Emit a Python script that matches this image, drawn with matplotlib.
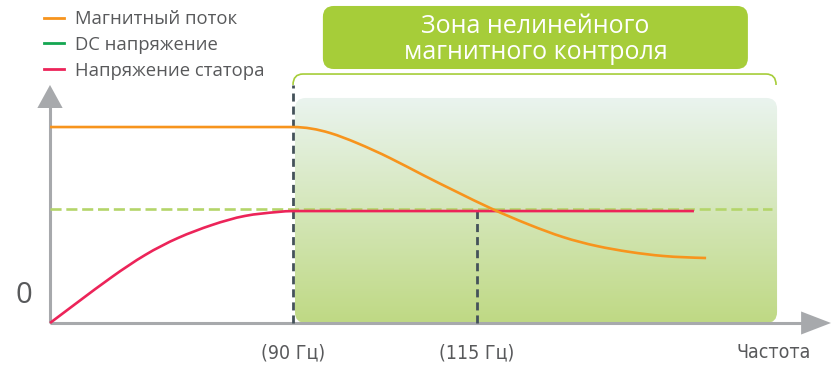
import numpy as np
import matplotlib
matplotlib.use("Agg")
import matplotlib.pyplot as plt
from matplotlib.patches import FancyBboxPatch, Polygon, PathPatch
from matplotlib.path import Path
from matplotlib.lines import Line2D
from matplotlib.colors import LinearSegmentedColormap
from matplotlib import font_manager as fm

# ---- data (x: relative frequency, 90 Hz = 1.0; y: relative level, DC = 1.0) ----
flux_x = [0.0, 1.0, 1.152, 1.263, 1.399, 1.535, 1.675, 1.811,
          1.975, 2.111, 2.251, 2.387, 2.523, 2.700]
flux_y = [1.719, 1.719, 1.667, 1.579, 1.447, 1.298, 1.149, 1.009,
          0.860, 0.754, 0.675, 0.623, 0.588, 0.570]

stator_x = [0.0, 0.115, 0.255, 0.391, 0.527, 0.667, 0.802, 0.938, 1.0, 2.650]
stator_y = [0.0, 0.184, 0.404, 0.596, 0.746, 0.860, 0.939, 0.974, 0.982, 0.982]

dc_level = 1.0
dc_x_end = 2.971

f_base = 1.0      # 90 Hz
f_cross = 1.757   # 115 Hz

series_labels = ["Магнитный поток", "DC напряжение", "Напряжение статора"]
tick_labels = ["(90 Гц)", "(115 Гц)"]
axis_label = "Частота"
zero_label = "0"
zone_title = "Зона нелинейного\nмагнитного контроля"

# ---- styling ----
C_FLUX = "#f7941d"
C_DC = "#14a651"
C_STATOR = "#ec2459"
C_DC_DASH = "#b4d56a"
C_TEXT = "#58595b"
C_AXIS = "#a7a9ac"
C_GUIDE = "#44525a"
C_ZONE = "#a6cd39"

names = {f.name for f in fm.fontManager.ttflist}
BASE = ["Open Sans", "DejaVu Sans"]
if "Liberation Sans Narrow" in names:
    NARROW = dict(family=["Liberation Sans Narrow", "DejaVu Sans"])
else:
    NARROW = dict(family=["DejaVu Sans"], stretch="condensed")
plt.rcParams["font.family"] = BASE


def spline_path(xs, ys, fixed):
    """Cubic spline (C2) Bezier path through the points; `fixed` pins the
    slope at given node indices, free end nodes use natural conditions."""
    x = np.asarray(xs, float)
    y = np.asarray(ys, float)
    n = len(x)
    h = np.diff(x)
    d = np.diff(y) / h
    A = np.zeros((n, n))
    b = np.zeros(n)
    for i in range(n):
        if i in fixed:
            A[i, i] = 1.0
            b[i] = fixed[i]
        elif i == 0:
            A[0, 0], A[0, 1], b[0] = 2.0, 1.0, 3 * d[0]
        elif i == n - 1:
            A[i, i - 1], A[i, i], b[i] = 1.0, 2.0, 3 * d[-1]
        else:
            A[i, i - 1] = h[i]
            A[i, i] = 2 * (h[i - 1] + h[i])
            A[i, i + 1] = h[i - 1]
            b[i] = 3 * (h[i] * d[i - 1] + h[i - 1] * d[i])
    m = np.linalg.solve(A, b)
    verts = [(x[0], y[0])]
    codes = [Path.MOVETO]
    for i in range(n - 1):
        verts += [(x[i] + h[i] / 3, y[i] + m[i] * h[i] / 3),
                  (x[i + 1] - h[i] / 3, y[i + 1] - m[i + 1] * h[i] / 3),
                  (x[i + 1], y[i + 1])]
        codes += [Path.CURVE4] * 3
    return Path(verts, codes)


W, H = 837, 366
fig = plt.figure(figsize=(W / 100, H / 100), dpi=100)
ax = fig.add_axes([0, 0, 1, 1])
sx, sy = 243.0, 114.0          # pixels per unit
ox, oy = 50.0, 323.0           # origin in pixels
XL = (-ox / sx, (W - ox) / sx)
YL = (-(H - oy) / sy, oy / sy)
ax.axis("off")
aspect = sx / sy

# shaded zone with vertical gradient
zx0, zx1 = 1.008, 2.992
zy0, zy1 = 0.0, 1.974
zone = FancyBboxPatch((zx0, zy0), zx1 - zx0, zy1 - zy0,
                      boxstyle="round,pad=0,rounding_size=0.045",
                      mutation_aspect=aspect, fc="none", ec="none")
ax.add_patch(zone)
grad = np.linspace(0, 1, 256).reshape(-1, 1)
cmap = LinearSegmentedColormap.from_list("zone", ["#eaf4ef", "#bfd984"])
img = ax.imshow(grad, extent=[zx0, zx1, zy0, zy1], cmap=cmap, aspect="auto",
                origin="upper", zorder=1, interpolation="bilinear")
img.set_clip_path(zone)

# title box
tx0, tx1 = 1.123, 2.872
ty0, ty1 = 2.228, 2.781
ax.add_patch(FancyBboxPatch((tx0, ty0), tx1 - tx0, ty1 - ty0,
                            boxstyle="round,pad=0,rounding_size=0.045",
                            mutation_aspect=aspect, fc=C_ZONE, ec="none", zorder=2))
ax.text((tx0 + tx1) / 2, (ty0 + ty1) / 2 - 0.015, zone_title, ha="center", va="center",
        color="white", fontsize=18, linespacing=1.05, zorder=3)

# bracket under the title
bl, br, btop, bbot = 1.0, 2.988, 2.184, 2.088
rx = 0.041
verts = [(bl, bbot), (bl, btop), (bl + rx, btop), (br - rx, btop), (br, btop), (br, bbot)]
codes = [Path.MOVETO, Path.CURVE3, Path.CURVE3, Path.LINETO, Path.CURVE3, Path.CURVE3]
ax.add_patch(PathPatch(Path(verts, codes), fc="none", ec=C_ZONE, lw=1.2, zorder=3))

# axes with arrow heads
ax.plot([0, 0], [0, 1.90], color=C_AXIS, lw=2.2, solid_capstyle="butt", zorder=4)
ax.plot([0, 3.10], [0, 0], color=C_AXIS, lw=2.2, solid_capstyle="butt", zorder=4)
ax.add_patch(Polygon([(-0.052, 1.886), (0.052, 1.886), (0.0, 2.088)],
                     closed=True, fc=C_AXIS, ec="none", zorder=4))
ax.add_patch(Polygon([(3.091, -0.101), (3.091, 0.101), (3.214, 0.0)],
                     closed=True, fc=C_AXIS, ec="none", zorder=4))

# guide lines
ax.plot([0, dc_x_end], [dc_level, dc_level], color=C_DC_DASH, lw=1.9,
        ls=(0, (4.2, 1.8)), zorder=5)
ax.plot([f_base, f_base], [0, 2.088], color=C_GUIDE, lw=2.0,
        ls=(0, (2.9, 1.8)), zorder=6)
ax.plot([f_cross, f_cross], [0, stator_y[-1]], color=C_GUIDE, lw=2.0,
        ls=(0, (2.9, 1.8)), zorder=6)

# curves (flat stretches are pinned to zero slope)
n_st = len(stator_x)
ax.add_patch(PathPatch(spline_path(stator_x, stator_y, {n_st - 2: 0.0, n_st - 1: 0.0}),
                       fc="none", ec=C_STATOR, lw=1.9, zorder=7, capstyle="butt"))
ax.add_patch(PathPatch(spline_path(flux_x, flux_y, {0: 0.0, 1: 0.0}),
                       fc="none", ec=C_FLUX, lw=1.9, zorder=8, capstyle="butt"))

# labels
ax.text(-0.109, 0.245, zero_label, ha="center", va="center", fontsize=21, color=C_TEXT)
for xv, lab in zip([f_base, f_cross], tick_labels):
    ax.text(xv, -0.262, lab, ha="center", va="center", fontsize=14, color=C_TEXT, **NARROW)
ax.text(2.979, -0.262, axis_label, ha="center", va="center", fontsize=14,
        color=C_TEXT, **NARROW)

ax.set_xlim(*XL)
ax.set_ylim(*YL)

# legend
handles = [Line2D([], [], color=c, lw=2.0) for c in (C_FLUX, C_DC, C_STATOR)]
fig.legend(handles, series_labels, loc="upper left",
           bbox_to_anchor=(44 / W, 1 - 10 / H), frameon=False, fontsize=13.3,
           handlelength=1.1, handletextpad=0.6, labelspacing=0.42,
           borderpad=0, borderaxespad=0, labelcolor=C_TEXT)

fig.savefig("out.png", dpi=100)
